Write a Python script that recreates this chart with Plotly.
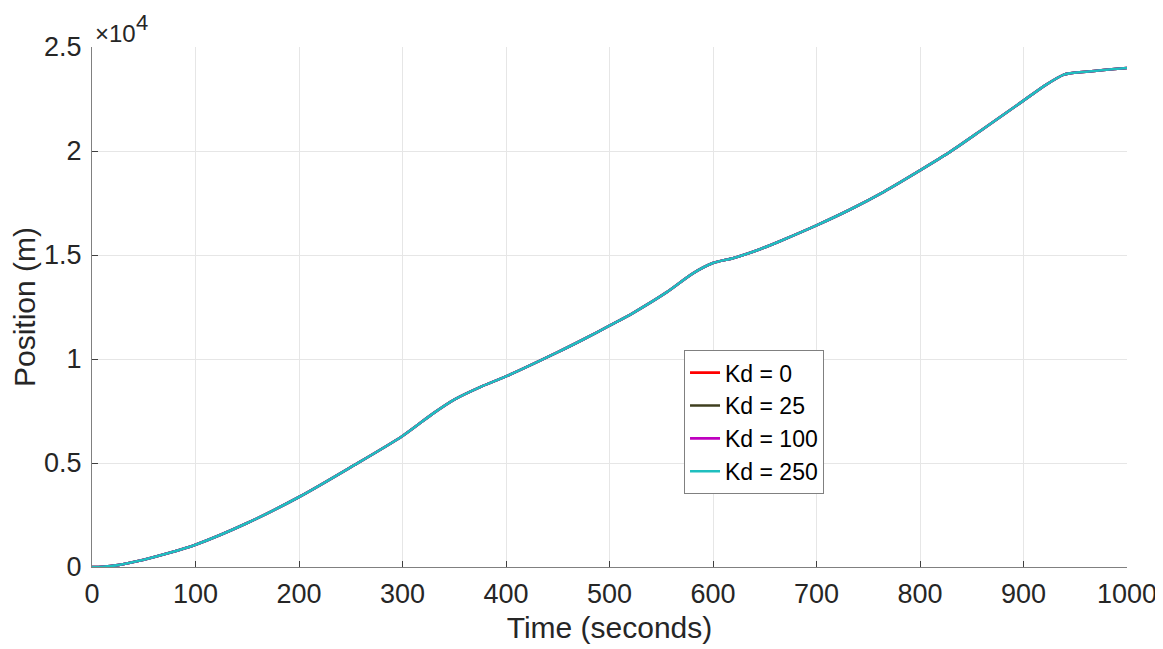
import plotly.graph_objects as go

time_s = [0, 10, 25, 50, 75, 100, 150, 200, 250, 300, 330, 350, 375, 400, 450, 475,
          500, 523, 555, 581, 600, 620, 646, 668, 700, 733, 765, 800, 829, 861, 900,
          922, 939, 943, 1000]
position_m = [0, 10, 90, 350, 680, 1070, 2115, 3365, 4800, 6300, 7400, 8050, 8650, 9165,
              10330, 10950, 11600, 12220, 13200, 14130, 14615, 14855, 15290, 15735, 16425,
              17200, 18040, 19070, 19960, 21060, 22420, 23190, 23670, 23720, 23990]

series_names = ["Kd = 0", "Kd = 25", "Kd = 100", "Kd = 250"]
series_colors = ["#ff0000", "#3f3f1f", "#bf00bf", "#1fbfbf"]
series_positions = [position_m, position_m, position_m, position_m]

x_ticks = [0, 100, 200, 300, 400, 500, 600, 700, 800, 900, 1000]
y_ticks = [0, 5000, 10000, 15000, 20000, 25000]
y_tick_labels = ["0", "0.5", "1", "1.5", "2", "2.5"]

fig = go.Figure()
for name, color, pos in zip(series_names, series_colors, series_positions):
    fig.add_trace(go.Scatter(x=time_s, y=pos, mode="lines", name=name,
                             line=dict(color=color, width=2.6, shape="spline", smoothing=0.8)))

font_family = "Liberation Sans, Arial, sans-serif"
fig.update_layout(
    width=1155, height=641,
    margin=dict(l=84, r=36, t=39, b=82),
    paper_bgcolor="white", plot_bgcolor="white",
    font=dict(family=font_family, color="#262626", size=27),
    showlegend=True,
    legend=dict(x=0.572, y=0.417, xanchor="left", yanchor="top",
                bgcolor="white", bordercolor="#808080", borderwidth=1,
                font=dict(size=23, color="#000000"), tracegroupgap=0,
                itemwidth=30),
    xaxis=dict(range=[0, 1000], tickvals=x_ticks, ticks="inside", ticklen=6,
               tickcolor="#404040", showline=True, linecolor="#808080", linewidth=1,
               showgrid=True, gridcolor="#e6e6e6", zeroline=False, automargin=False,
               ticklabelstandoff=3,
               title=dict(text="Time (seconds)", font=dict(size=30), standoff=8),
               tickfont=dict(size=27)),
    yaxis=dict(range=[0, 25000], tickvals=y_ticks, ticktext=y_tick_labels,
               ticks="inside", ticklen=6, tickcolor="#404040",
               showline=True, linecolor="#808080", linewidth=1,
               showgrid=True, gridcolor="#e6e6e6", zeroline=False, automargin=False,
               ticklabelstandoff=4,
               title=dict(text="Position (m)", font=dict(size=30), standoff=2),
               tickfont=dict(size=27)),
    annotations=[
        dict(text="×10", x=0, y=1, xref="paper", yref="paper",
             xanchor="left", yanchor="middle", showarrow=False,
             font=dict(size=24, color="#262626"), xshift=1, yshift=14),
        dict(text="4", x=0, y=1, xref="paper", yref="paper",
             xanchor="left", yanchor="middle", showarrow=False,
             font=dict(size=22, color="#262626"), xshift=42, yshift=25),
    ],
)

fig.write_html("out.html")
